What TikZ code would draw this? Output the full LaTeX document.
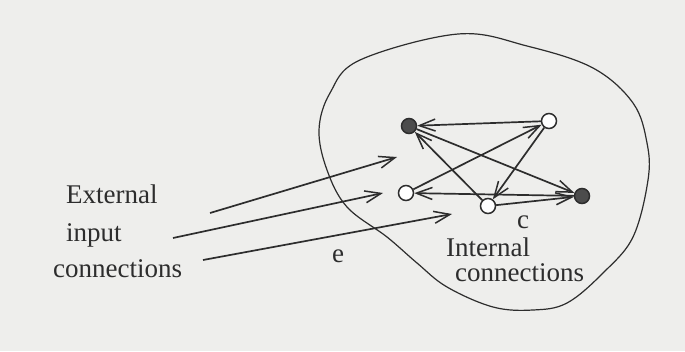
\documentclass[tikz,border=0pt]{standalone}
\usepackage{fontspec}
\setmainfont{Liberation Serif}
\usepackage{tikz}
\usetikzlibrary{arrows.meta}

\definecolor{paper}{RGB}{238,238,236}
\definecolor{ink}{RGB}{45,45,45}

\begin{document}
\begin{tikzpicture}[
  x=1pt, y=-1pt,
  font=\fontsize{27}{30}\selectfont,
  every node/.style={text=ink},
  unit/.style={circle, draw=ink, line width=1.5pt, fill=white, minimum size=15pt, inner sep=0pt},
  fired/.style={unit, fill=ink!85},
  arrow/.style={-{Straight Barb[length=16pt, width=12pt, line width=1.5pt]}, line width=1.7pt, draw=ink},
  label/.style={anchor=base west, inner sep=0pt}
]
\fill[paper] (0,0) rectangle (685,351);
\useasboundingbox (0,0) rectangle (685,351);

% the network region
\draw[ink, line width=1.2pt] plot[smooth cycle, tension=0.6] coordinates {
  (458,34) (527,46) (593,68) (633,103) (647,143) (648,180) (633,237)
  (603,273) (567,303) (533,310) (493,307) (447,287) (417,263)
  (387,237) (347,207) (327,170) (319,130) (330,93) (360,60)};

% units
\node[fired] (topleft) at (409,126) {};
\node[unit] (topright) at (549,121) {};
\node[unit] (midleft) at (406,193) {};
\node[unit] (bottom) at (488,206) {};
\node[fired] (right) at (582,196) {};

% internal connections
\draw[arrow] (topright) -- (topleft);
\draw[arrow] (topleft) -- (right);
\draw[arrow] (midleft) -- (topright);
\draw[arrow] (topright) -- (bottom);
\draw[arrow] (bottom) -- (topleft);
\draw[arrow] (right) -- (midleft);
\draw[arrow] (bottom) -- (right);

% external inputs
\coordinate (in1) at (210,213);
\coordinate (in2) at (173,238);
\coordinate (in3) at (203,260);
\coordinate (to1) at (397,157);
\coordinate (to2) at (383,193);
\coordinate (to3) at (452,214);
\draw[arrow] (in1) -- (to1);
\draw[arrow] (in2) -- (to2);
\draw[arrow] (in3) -- (to3);

% labels
\node[label] (ext) at (66,203) {External};
\node[label] (inp) at (66,241) {input};
\node[label] (con) at (53,277) {connections};
\node[label] (e) at (332,262) {e};
\node[label] (c) at (517,228) {c};
\node[label] (int) at (446,256) {Internal};
\node[label] (intcon) at (455,281) {connections};
\end{tikzpicture}
\end{document}
